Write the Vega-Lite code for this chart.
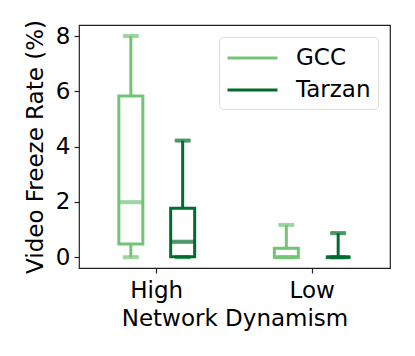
{
  "$schema": "https://vega.github.io/schema/vega-lite/v6.json",
  "width": 311,
  "height": 243,
  "autosize": {"type": "none"},
  "padding": {"left": 79, "top": 25, "right": 25, "bottom": 88},
  "background": "white",
  "config": {
    "font": "DejaVu Sans",
    "view": {"stroke": "#222", "strokeWidth": 1.2},
    "axis": {"grid": false, "domain": false, "tickColor": "#222", "tickSize": 5, "tickWidth": 1.2,
             "labelFontSize": 23, "titleFontSize": 23, "labelColor": "black", "titleColor": "black",
             "titleFontWeight": "normal"}
  },
  "data": {"values": [
    {"group": "High", "method": "GCC", "min": 0, "q1": 0.48, "median": 1.99, "q3": 5.83, "max": 8.0},
    {"group": "High", "method": "Tarzan", "min": 0, "q1": 0.02, "median": 0.56, "q3": 1.77, "max": 4.22},
    {"group": "Low", "method": "GCC", "min": 0, "q1": 0.0, "median": 0.0, "q3": 0.32, "max": 1.17},
    {"group": "Low", "method": "Tarzan", "min": 0, "q1": 0.0, "median": 0.0, "q3": 0.0, "max": 0.87}
  ]},
  "encoding": {
    "x": {"field": "group", "type": "nominal", "title": "Network Dynamism",
          "scale": {"domain": ["High", "Low"], "paddingInner": 0, "paddingOuter": 0},
          "axis": {"labelAngle": 0, "labelPadding": 6, "titlePadding": 5}},
    "xOffset": {"field": "method", "type": "nominal",
                "scale": {"domain": ["GCC", "Tarzan"], "paddingInner": 0, "paddingOuter": 0.5}},
    "stroke": {"field": "method", "type": "nominal", "title": null,
               "scale": {"domain": ["GCC", "Tarzan"], "range": ["#74c476", "#006d2c"]},
               "legend": {"orient": "top-right", "offset": 12, "symbolType": "M-1,0L3,0", "symbolSize": 625,
                          "symbolStrokeWidth": 3, "labelFontSize": 23, "labelColor": "black",
                          "strokeColor": "#dddddd", "fillColor": "white", "cornerRadius": 4,
                          "padding": 7, "rowPadding": 6, "labelOffset": 42}}
  },
  "layer": [
    {"mark": {"type": "rule", "strokeWidth": 3},
     "encoding": {
       "y": {"field": "min", "type": "quantitative", "title": "Video Freeze Rate (%)",
             "scale": {"domain": [-0.39, 8.4], "nice": false, "zero": false},
             "axis": {"values": [0, 2, 4, 6, 8], "titlePadding": 8, "labelPadding": 4}},
       "y2": {"field": "max"}
     }},
    {"mark": {"type": "bar", "size": 24, "fill": "white", "strokeWidth": 3},
     "encoding": {"y": {"field": "q1", "type": "quantitative"}, "y2": {"field": "q3"}}},
    {"mark": {"type": "tick", "size": 24, "thickness": 3},
     "encoding": {"y": {"field": "median", "type": "quantitative"}, "color": {"field": "method", "type": "nominal", "scale": {"domain": ["GCC", "Tarzan"], "range": ["#74c476", "#006d2c"]}, "legend": null}}},
    {"mark": {"type": "tick", "size": 15, "thickness": 3},
     "encoding": {"y": {"field": "max", "type": "quantitative"}, "color": {"field": "method", "type": "nominal", "scale": {"domain": ["GCC", "Tarzan"], "range": ["#74c476", "#006d2c"]}, "legend": null}}},
    {"mark": {"type": "tick", "size": 15, "thickness": 3},
     "encoding": {"y": {"field": "min", "type": "quantitative"}, "color": {"field": "method", "type": "nominal", "scale": {"domain": ["GCC", "Tarzan"], "range": ["#74c476", "#006d2c"]}, "legend": null}}}
  ]
}
